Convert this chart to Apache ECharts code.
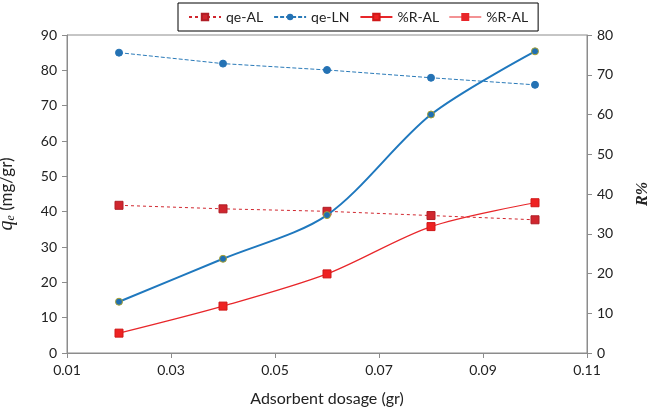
<!DOCTYPE html>
<html>
<head>
<meta charset="utf-8">
<script src="https://cdn.jsdelivr.net/npm/echarts@6/dist/echarts.min.js"></script>
<style>
  html, body { margin: 0; padding: 0; background: #fff; }
  #main { width: 663px; height: 412px; }
</style>
</head>
<body>
<div id="main"></div>
<script>
  // adsorbent dosage (gr)
  const dosage = [0.02, 0.04, 0.06, 0.08, 0.10];
  // left axis: qe (mg/gr)
  const qeAL = [41.8, 40.8, 40.1, 38.9, 37.7];
  const qeLN = [85.0, 81.9, 80.1, 77.9, 75.9];
  // right axis: R%
  const rAL = [5.0, 11.8, 19.9, 31.8, 37.8];
  const rLN = [12.9, 23.7, 34.7, 60.0, 75.9];

  const pair = (ys) => dosage.map((x, i) => [x, ys[i]]);
  const font = 'Lato, "Open Sans", sans-serif';
  // line with a square in the middle, for the last legend entry
  const lineSquareIcon = 'path://M0,3.4L12,3.4L12,0L20,0L20,3.4L32,3.4L32,4.6L20,4.6L20,8L12,8L12,4.6L0,4.6Z';

  let myChart = echarts.init(document.getElementById('main'), null, { renderer: 'canvas' });

  let option = {
    animation: false,
    textStyle: { fontFamily: font },
    legend: {
      top: 3,
      left: 178,
      borderColor: '#000',
      borderWidth: 1,
      padding: [7, 10],
      itemGap: 10,
      itemWidth: 32,
      itemHeight: 8,
      textStyle: { fontSize: 14, color: '#222', fontFamily: font },
      // the source chart labels the last entry %R-AL as well
      formatter: (n) => (n === '%R-LN' ? '%R-AL' : n),
      data: [
        { name: 'qe-AL' },
        { name: 'qe-LN' },
        { name: '%R-AL' },
        { name: '%R-LN', icon: lineSquareIcon, itemStyle: { color: '#e8262a', borderColor: '#e8262a', borderWidth: 0 } }
      ]
    },
    grid: {
      left: 67, right: 76, top: 35, bottom: 59,
      outerBoundsMode: 'none',
      show: true, borderColor: '#8c8c8c', borderWidth: 1
    },
    xAxis: {
      type: 'value',
      min: 0.01, max: 0.11, interval: 0.02,
      name: 'Adsorbent dosage (gr)',
      nameLocation: 'middle',
      nameGap: 38,
      nameTextStyle: { fontSize: 16, color: '#222', fontFamily: font },
      axisLine: { lineStyle: { color: '#8c8c8c' } },
      axisTick: { length: 5, lineStyle: { color: '#8c8c8c' } },
      axisLabel: { fontSize: 14, color: '#222', margin: 10, formatter: (v) => v.toFixed(2) },
      splitLine: { show: false }
    },
    yAxis: [
      {
        type: 'value',
        min: 0, max: 90, interval: 10,
        position: 'left',
        name: '{q|q}{e|e} (mg/gr)',
        nameLocation: 'middle',
        nameGap: 50,
        nameRotate: 90,
        nameTextStyle: {
          fontSize: 17, color: '#222', fontFamily: font,
          rich: {
            q: { fontSize: 20, fontStyle: 'italic', fontFamily: '"Liberation Serif", serif', color: '#222' },
            e: { fontSize: 12, fontStyle: 'italic', fontFamily: '"Liberation Serif", serif', color: '#222', verticalAlign: 'bottom', padding: [6, 0, 0, 0] }
          }
        },
        axisLine: { show: true, lineStyle: { color: '#8c8c8c' } },
        axisTick: { show: true, length: 5, lineStyle: { color: '#8c8c8c' } },
        axisLabel: { fontSize: 14, color: '#222', margin: 10 },
        splitLine: { show: false }
      },
      {
        type: 'value',
        min: 0, max: 80, interval: 10,
        position: 'right',
        name: 'R%',
        nameLocation: 'middle',
        nameGap: 48,
        nameRotate: 90,
        nameTextStyle: { fontSize: 16, fontStyle: 'italic', fontWeight: 'bold', fontFamily: '"Liberation Serif", serif', color: '#222' },
        axisLine: { show: true, lineStyle: { color: '#8c8c8c' } },
        axisTick: { show: true, length: 5, lineStyle: { color: '#8c8c8c' } },
        axisLabel: { fontSize: 14, color: '#222', margin: 10 },
        splitLine: { show: false }
      }
    ],
    series: [
      {
        name: 'qe-AL',
        type: 'line',
        yAxisIndex: 0,
        data: pair(qeAL),
        symbol: 'rect',
        symbolSize: 8,
        itemStyle: { color: '#d0262e', borderColor: '#b01e26', borderWidth: 1 },
        lineStyle: { color: '#d0262e', width: 1, type: [3, 3] },
        z: 3
      },
      {
        name: 'qe-LN',
        type: 'line',
        yAxisIndex: 0,
        data: pair(qeLN),
        symbol: 'circle',
        symbolSize: 7,
        itemStyle: { color: '#2472b4', borderColor: '#2472b4' },
        lineStyle: { color: '#2a7ab8', width: 1, type: [4, 2] },
        z: 3
      },
      {
        name: '%R-AL',
        type: 'line',
        yAxisIndex: 1,
        data: pair(rAL),
        smooth: 0.3,
        symbol: 'rect',
        symbolSize: 8,
        itemStyle: { color: '#ee2222', borderColor: '#d01818', borderWidth: 1 },
        lineStyle: { color: '#e8262a', width: 1.2 },
        z: 4
      },
      {
        name: '%R-LN',
        type: 'line',
        yAxisIndex: 1,
        data: pair(rLN),
        smooth: 0.3,
        symbol: 'circle',
        symbolSize: 7,
        itemStyle: { color: '#1f6fb2', borderColor: '#a8a030', borderWidth: 1 },
        lineStyle: { color: '#1f78be', width: 2 },
        z: 4
      }
    ]
  };

  myChart.setOption(option);
</script>
</body>
</html>
